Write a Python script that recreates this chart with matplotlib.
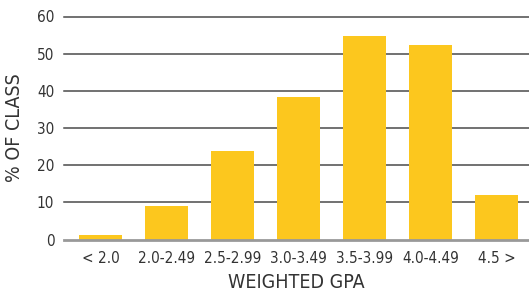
import matplotlib
matplotlib.use('Agg')
import matplotlib.pyplot as plt

categories = ['< 2.0', '2.0-2.49', '2.5-2.99', '3.0-3.49', '3.5-3.99', '4.0-4.49', '4.5 >']
values = [1.2, 9.0, 23.8, 38.3, 54.7, 52.3, 12.0]
yticks = [0, 10, 20, 30, 40, 50, 60]

plt.rcParams['font.family'] = ['DejaVu Sans']
plt.rcParams['font.stretch'] = 'condensed'

fig = plt.figure(figsize=(5.29, 2.95), dpi=100)
ax = fig.add_axes([64 / 529, 1 - 239.5 / 295, 465 / 529, 223 / 295])

x = range(len(categories))
ax.bar(x, values, width=0.65, color='#FCC71E', zorder=3)

ax.set_ylim(0, 60)
ax.set_xlim(-0.553, 6.49)
ax.set_yticks(yticks)
ax.set_xticks(list(x))
ax.set_xticklabels(categories)
for y in yticks[1:]:
    ax.axhline(y, color='#4a4a4a', lw=1.1, zorder=1, clip_on=False)
ax.axhline(0, color='#999999', lw=2, zorder=4, clip_on=False)

for s in ax.spines.values():
    s.set_visible(False)
ax.tick_params(length=0, labelsize=11, colors='#333333', pad=7)
ax.tick_params(axis='x', pad=8)

ax.set_xlabel('WEIGHTED GPA', fontsize=14, color='#333333', labelpad=5)
ax.set_ylabel('% OF CLASS', fontsize=14, color='#333333', labelpad=9)

fig.savefig('out.png', dpi=100)
